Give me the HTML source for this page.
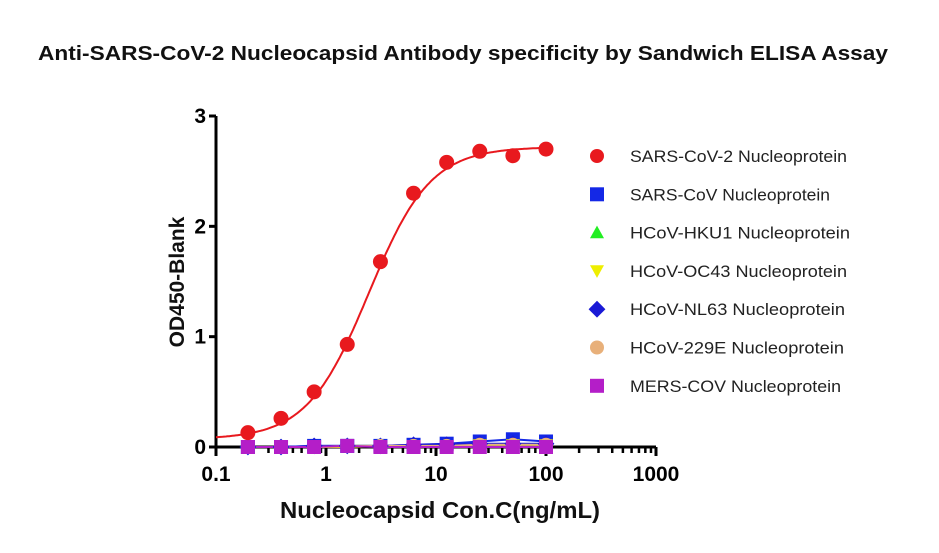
<!DOCTYPE html>
<html><head><meta charset="utf-8"><style>
body{margin:0;background:#fff;}
svg text{font-family:"Liberation Sans",Arial,sans-serif;}
</style></head><body>
<svg id="chart" width="939" height="548">
<text x="463" y="60" text-anchor="middle" font-size="20" font-weight="bold" fill="#111" textLength="850" lengthAdjust="spacingAndGlyphs">Anti-SARS-CoV-2 Nucleocapsid Antibody specificity by Sandwich ELISA Assay</text>
<text transform="translate(184,282) rotate(-90)" text-anchor="middle" font-size="21" font-weight="bold" fill="#111">OD450-Blank</text>
<text x="440" y="518" text-anchor="middle" font-size="23" font-weight="bold" fill="#111" textLength="320" lengthAdjust="spacingAndGlyphs">Nucleocapsid Con.C(ng/mL)</text>
<g id="axes"></g><g id="marks"></g><g id="legend"></g>
</svg>
<script>
const concentrations=[0.195,0.39,0.78,1.56,3.125,6.25,12.5,25,50,100];
const sarsCov2=[0.13,0.26,0.50,0.93,1.68,2.30,2.58,2.68,2.64,2.70];
const sarsCov=[0.0,0.0,0.01,0.01,0.01,0.02,0.03,0.05,0.07,0.05];
const hku1=[0.0,0.0,0.0,0.01,0.01,0.01,0.01,0.02,0.02,0.02];
const oc43=[0.0,0.0,0.0,0.0,0.01,0.01,0.01,0.02,0.02,0.02];
const nl63=[0.0,0.0,0.01,0.01,0.01,0.02,0.02,0.03,0.03,0.03];
const e229=[0.0,0.0,0.0,0.01,0.01,0.01,0.01,0.02,0.02,0.02];
const mers=[0.0,0.0,0.0,0.01,0.0,0.0,0.0,0.0,0.0,0.0];
const xTicks=[0.1,1,10,100,1000];
const xTickLabels=["0.1","1","10","100","1000"];
const yTicks=[0,1,2,3];
const legendLabels=["SARS-CoV-2 Nucleoprotein","SARS-CoV Nucleoprotein","HCoV-HKU1 Nucleoprotein","HCoV-OC43 Nucleoprotein","HCoV-NL63 Nucleoprotein","HCoV-229E Nucleoprotein","MERS-COV Nucleoprotein"];

const NS="http://www.w3.org/2000/svg";
const X0=216,X1=656,Y0=447,Y1=116;
const xs=v=>X0+(Math.log10(v)+1)/4*(X1-X0);
const ys=v=>Y0-v/3*(Y0-Y1);
function mk(p,tag,a){const e=document.createElementNS(NS,tag);for(const k in a)e.setAttribute(k,a[k]);p.appendChild(e);return e;}
const axes=document.getElementById('axes'),marks=document.getElementById('marks'),legend=document.getElementById('legend');

let l=mk(axes,'line',{x1:X0,y1:Y0,x2:X1,y2:Y0,stroke:'#000','stroke-width':3});

l=mk(axes,'line',{x1:X0,y1:Y0+1,x2:X0,y2:Y1,stroke:'#000','stroke-width':3});

yTicks.forEach(t=>{
  mk(axes,'line',{x1:X0-7,y1:ys(t),x2:X0,y2:ys(t),stroke:'#000','stroke-width':3});
  const tx=mk(axes,'text',{x:X0-10,y:ys(t)+7,'text-anchor':'end','font-size':21,'font-weight':'bold'});
  tx.textContent=t;
  
});
xTicks.forEach((t,i)=>{
  mk(axes,'line',{x1:xs(t),y1:Y0,x2:xs(t),y2:Y0+9,stroke:'#000','stroke-width':3});
  const tx=mk(axes,'text',{x:xs(t),y:Y0+34,'text-anchor':'middle','font-size':21,'font-weight':'bold'});
  tx.textContent=xTickLabels[i];
  
  if(i<xTicks.length-1)for(let m=2;m<=9;m++)mk(axes,'line',{x1:xs(t*m),y1:Y0,x2:xs(t*m),y2:Y0+6,stroke:'#000','stroke-width':2.5});
});

let d='';
for(let i=0;i<=200;i++){const lx=-1+3*i/200,c=Math.pow(10,lx);
  const y=0.07+(2.72-0.07)/(1+Math.pow(2.45/c,1.55));
  d+=(i?'L':'M')+xs(c).toFixed(1)+','+ys(y).toFixed(1);}
const fit=mk(marks,'path',{d:d,fill:'none',stroke:'#e8191e','stroke-width':2});


const series=[
 {v:sarsCov,c:'#1428e6',s:'square',n:'sars-cov'},
 {v:hku1,c:'#22cc22',s:'tri',n:'hcov-hku1'},
 {v:oc43,c:'#e6e600',s:'tri-down',n:'hcov-oc43'},
 {v:nl63,c:'#1a1ad6',s:'diamond',n:'hcov-nl63'},
 {v:e229,c:'#e8b07a',s:'circle',n:'hcov-229e'},
 {v:mers,c:'#b41ec8',s:'square',n:'mers-cov'}];
function marker(p,shape,x,y,c,r){
  if(shape==='circle')return mk(p,'circle',{cx:x,cy:y,r:r,fill:c});
  if(shape==='square')return mk(p,'rect',{x:x-r,y:y-r,width:2*r,height:2*r,fill:c});
  if(shape==='tri')return mk(p,'polygon',{points:`${x},${y-r} ${x+r},${y+r*0.8} ${x-r},${y+r*0.8}`,fill:c});
  if(shape==='tri-down')return mk(p,'polygon',{points:`${x},${y+r} ${x+r},${y-r*0.8} ${x-r},${y-r*0.8}`,fill:c});
  return mk(p,'polygon',{points:`${x},${y-r*1.2} ${x+r*1.2},${y} ${x},${y+r*1.2} ${x-r*1.2},${y}`,fill:c});
}
series.forEach(s=>{
  let pd='';concentrations.forEach((c,i)=>{pd+=(i?'L':'M')+xs(c)+','+ys(s.v[i]);});
  const ln=mk(marks,'path',{d:pd,fill:'none',stroke:s.c,'stroke-width':2});
  
});
series.forEach(s=>{
  concentrations.forEach((c,i)=>{
    const m=marker(marks,s.s,xs(c),ys(s.v[i]),s.c,7);
    
  });
});
concentrations.forEach((c,i)=>{
  const m=mk(marks,'circle',{cx:xs(c),cy:ys(sarsCov2[i]),r:7.5,fill:'#e8191e'});
  
});

const legendShapes=['circle','square','tri','tri-down','diamond','circle','square'];
const legendColors=['#e8191e','#1428e6','#22ee22','#eeee00','#1a1ad6','#e8b07a','#b41ec8'];
const legendWidths=[217,200,220,217,215,214,211];
legendLabels.forEach((t,i)=>{
  const y=156+i*38.3;
  const m=marker(legend,legendShapes[i],597,y,legendColors[i],7);
  
  const tx=mk(legend,'text',{x:630,y:y+6,'font-size':17,fill:'#222',textLength:legendWidths[i],lengthAdjust:'spacingAndGlyphs'});
  tx.textContent=t;
  
});
</script>
</body></html>
